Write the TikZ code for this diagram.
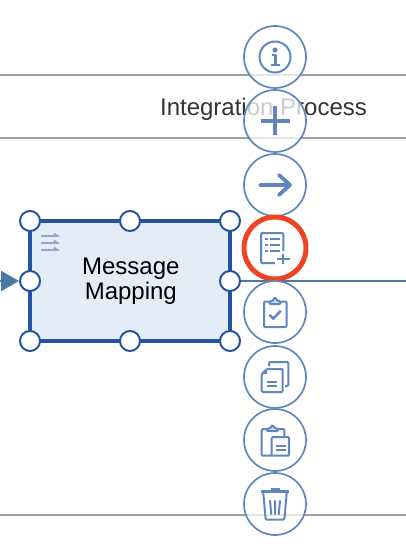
\documentclass[tikz,border=0pt]{standalone}
\usepackage{fontspec}
\setmainfont{Liberation Sans}
\usetikzlibrary{arrows.meta}
\definecolor{laneGray}{HTML}{9C9EA0}
\definecolor{toolBlue}{HTML}{5F87BE}
\definecolor{boxBlue}{HTML}{24549F}
\definecolor{boxFill}{HTML}{E4ECF7}
\definecolor{flowBlue}{HTML}{4A78A8}
\definecolor{markRed}{HTML}{EE4423}
\definecolor{taskGray}{HTML}{93A5C6}
\tikzset{
    laneline/.style={draw=laneGray,line width=2pt},
    toolcircle/.style={circle,draw=toolBlue,line width=1.7pt,fill=white,fill opacity=0.75,minimum size=62pt,inner sep=0pt},
    toolicon/.style={draw=toolBlue,line width=2pt,line join=round,rounded corners=1pt},
    handle/.style={circle,draw=boxBlue,line width=2pt,fill=white,minimum size=20pt,inner sep=0pt},
}
\begin{document}
\begin{tikzpicture}[x=1pt,y=-1pt]
            \useasboundingbox (0,0) rectangle (406,556);
            \coordinate (laneAstart) at (0,75);
            \coordinate (laneAend) at (406,75);
            \coordinate (laneBstart) at (0,138.5);
            \coordinate (laneBend) at (406,138.5);
            \coordinate (laneCstart) at (0,515);
            \coordinate (laneCend) at (406,515);
            \draw[laneline] (laneAstart)--(laneAend);
            \draw[laneline] (laneBstart)--(laneBend);
            \draw[laneline] (laneCstart)--(laneCend);
            \node[text=black!80,font=\fontsize{24}{26}\selectfont] (lanetitle) at (263.5,109) {Integration Process};
            \node[draw=boxBlue,line width=4pt,fill=boxFill,minimum width=200pt,minimum height=120pt,inner sep=0pt] (mapbox) at (130,281) {};
            \node[align=center,font=\fontsize{24}{24.5}\selectfont] (maptext) at (130.8,281.3) {Message\\Mapping};
            \draw[draw=taskGray,line width=1.8pt] (41,236)--(59,236) (54,233.5)--(57,236);
            \draw[draw=taskGray,line width=1.8pt] (41,243)--(59,243) (54,240.5)--(57,243);
            \draw[draw=taskGray,line width=1.8pt] (41,250)--(59,250) (54,247.5)--(57,250);
            \coordinate (flowin) at (0,281);
            \coordinate (flowout) at (406,281);
            \node[handle] (handleW) at (30,281) {};
            \node[handle] (handleE) at (230,281) {};
            \draw[flowBlue,line width=1.8pt,-{Triangle[length=18pt,width=20pt]}] (flowin)--(handleW.west);
            \draw[flowBlue,line width=2pt] (handleE.east)--(flowout);
            \node[handle] (handleNW) at (30,221) {};
            \node[handle] (handleN) at (130,221) {};
            \node[handle] (handleNE) at (230,221) {};
            \node[handle] (handleSW) at (30,341) {};
            \node[handle] (handleS) at (130,341) {};
            \node[handle] (handleSE) at (230,341) {};
            \node[toolcircle] (infotool) at (275,57) {};
            \node[toolcircle] (addtool) at (275,121) {};
            \node[toolcircle] (nexttool) at (275,185) {};
            \node[toolcircle,draw=markRed,line width=5pt,fill opacity=1] (listtool) at (275,248) {};
            \node[toolcircle] (checktool) at (275,312) {};
            \node[toolcircle] (copytool) at (275,377) {};
            \node[toolcircle] (pastetool) at (275,440) {};
            \node[toolcircle] (trashtool) at (275,504) {};
            \begin{scope}[shift={(infotool.center)}]
                \draw[toolicon] (0,0) circle (15.5);
                \fill[toolBlue] (0,-7) circle (2.5);
                \draw[toolicon,line width=2.8pt,rounded corners=0pt] (-3.5,-2)--(0.5,-2)--(0.5,8);
                \draw[toolicon,line width=2.4pt] (-4,8)--(4.5,8);
            \end{scope}
            \begin{scope}[shift={(addtool.center)}]
                \draw[toolicon,line width=3.4pt] (-14.5,0)--(14.5,0) (0,-14.5)--(0,14.5);
            \end{scope}
            \begin{scope}[shift={(nexttool.center)}]
                \draw[toolicon,line width=3.8pt,line cap=round,rounded corners=0pt] (-15,0)--(15,0) (4,-10)--(15,0)--(4,10);
            \end{scope}
            \begin{scope}[shift={(listtool.center)}]
                \draw[toolicon] (8.3,3)--(8.3,-15)--(-14,-15)--(-14,15)--(0,15);
                \draw[toolicon] (-10.5,-9)--(-7.5,-9) (-5,-9)--(5,-9);
                \draw[toolicon] (-10.5,-3)--(-7.5,-3) (-5,-3)--(5,-3);
                \draw[toolicon] (-10.5,3)--(-7.5,3) (-5,3)--(5,3);
                \draw[toolicon] (1.7,10.7)--(15,10.7) (8.3,5.5)--(8.3,16);
            \end{scope}
            \begin{scope}[shift={(checktool.center)}]
                \draw[toolicon] (-5.5,-10.5)--(-11,-10.5)--(-11,15)--(11.5,15)--(11.5,-10.5)--(5.5,-10.5);
                \draw[toolicon,fill=toolBlue!30] (-5.5,-10.5)--(-5.5,-8)--(5.5,-8)--(5.5,-10.5)--(2,-11.5)--(0,-15)--(-2,-11.5)--cycle;
                \draw[toolicon,line width=2.4pt,rounded corners=0pt] (-5.7,2.7)--(-1.7,6.7)--(5.7,-1.3);
            \end{scope}
            \begin{scope}[shift={(copytool.center)}]
                \draw[toolicon] (-6,-11)--(-6,-15)--(13.3,-15)--(13.3,9)--(10,9);
                \draw[toolicon] (-8,-8)--(7.7,-8)--(7.7,15)--(-13.3,15)--(-13.3,-3)--cycle;
                \fill[toolBlue] (-13.3,-3)--(-8,-8)--(-8,-3)--cycle;
                \draw[toolicon] (-7.7,4.7)--(1.7,4.7) (-7.7,8.7)--(1.7,8.7);
            \end{scope}
            \begin{scope}[shift={(pastetool.center)}]
                \draw[toolicon] (-8.3,-11)--(-13.3,-11)--(-13.3,15.7)--(-3.3,15.7);
                \draw[toolicon] (3.3,-11)--(9.3,-11)--(9.3,-3.5);
                \draw[toolicon,fill=toolBlue!30] (-8.3,-11)--(-8.3,-9)--(3.3,-9)--(3.3,-11)--(-0.5,-12)--(-2.5,-15.3)--(-4.5,-12)--cycle;
                \draw[toolicon] (-3.3,-3)--(14,-3)--(14,15.7)--(-3.3,15.7)--cycle;
                \draw[toolicon] (0.5,5.7)--(10.5,5.7) (0.5,9.7)--(10.5,9.7);
            \end{scope}
            \begin{scope}[shift={(trashtool.center)}]
                \draw[toolicon,line width=2.6pt] (-14,-12.5)--(14,-12.5);
                \draw[toolicon,line width=2.4pt] (-4.5,-14.7)--(4.5,-14.7);
                \draw[toolicon] (-11.7,-11)--(-9.3,15.7)--(9.3,15.7)--(11.7,-11);
                \draw[toolicon] (-5,-3.7)--(-3.7,10.7) (0,-3.7)--(0,10.7) (5,-3.7)--(3.7,10.7);
            \end{scope}
        \end{tikzpicture}
\end{document}
